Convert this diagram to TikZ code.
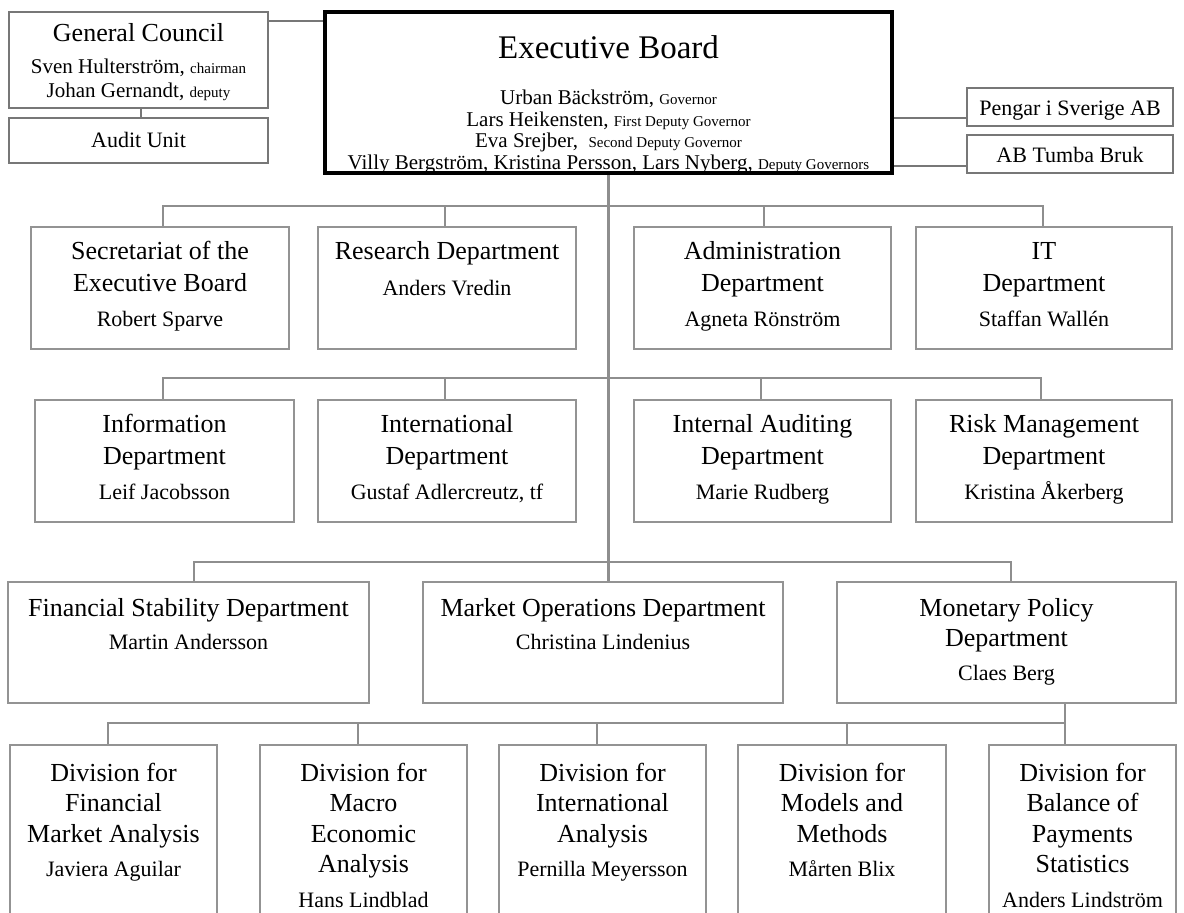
\documentclass[tikz,border=0pt]{standalone}
\usepackage{fontspec}
\setmainfont{Liberation Serif}
\usetikzlibrary{calc}
\definecolor{bxgray}{HTML}{939393}
\definecolor{dkgray}{HTML}{777777}
\definecolor{lngray}{HTML}{8E8E8E}
\newcommand\rolefont{\fontsize{15}{18}\selectfont}
\newcommand\mkbox[6]{\node[#6, minimum width={#4-#2}, minimum height={#5-#3}] (#1) at ({(#2+#4)/2},{(#3+#5)/2}) {};}
\newcommand\mktext[5]{\node[#4, anchor=base] (#1) at (#2,#3) {#5};}
\tikzset{
  box/.style={draw=bxgray, line width=2.6pt, inner sep=0pt, fill=none},
  topbox/.style={draw=dkgray, line width=2.6pt, inner sep=0pt},
  ebbox/.style={draw=black, line width=4pt, inner sep=0pt},
  link/.style={draw=lngray, line width=2.6pt},
  toplink/.style={draw=dkgray, line width=2.6pt},
  ttl/.style={font=\fontsize{26}{30}\selectfont, inner sep=0pt},
  nm/.style={font=\fontsize{22}{26}\selectfont, inner sep=0pt},
  gcn/.style={font=\fontsize{21}{25}\selectfont, inner sep=0pt},
  ebt/.style={font=\fontsize{33}{38}\selectfont, inner sep=0pt},
}
\begin{document}
\begin{tikzpicture}[x=1pt, y=-1pt]
\useasboundingbox (0,0) rectangle (1184,913);
\fill[white] (0,0) rectangle (1184,913);
\clip (0,0) rectangle (1184,913);

% ---------- top level ----------
\mkbox{gc}{9}{12}{268}{108}{topbox}
\mktext{gct}{138.5}{41}{ttl}{General Council}
\mktext{gcn1}{138.5}{73}{gcn}{Sven Hulterström, {\rolefont chairman}}
\mktext{gcn2}{138.5}{97}{gcn}{Johan Gernandt, {\rolefont deputy}}

\mkbox{au}{9}{118}{268}{163}{topbox}
\mktext{aut}{138.5}{147}{nm}{Audit Unit}

\mkbox{eb}{325}{12}{892}{173}{ebbox}
\mktext{ebtt}{608.5}{58}{ebt}{Executive Board}
\mktext{eb1}{608.5}{104}{gcn}{Urban Bäckström, {\rolefont Governor}}
\mktext{eb2}{608.5}{126}{gcn}{Lars Heikensten, {\rolefont First Deputy Governor}}
\mktext{eb3}{608.5}{147}{gcn}{Eva Srejber,\ \ {\rolefont Second Deputy Governor}}
\mktext{eb4}{608.5}{169}{gcn}{Villy Bergström, Kristina Persson, Lars Nyberg, {\rolefont Deputy Governors}}

\mkbox{pg}{967}{88}{1173}{126}{topbox}
\mktext{pgt}{1070}{115}{nm}{Pengar i Sverige AB}
\mkbox{ab}{967}{135}{1173}{173}{topbox}
\mktext{abt}{1070}{162}{nm}{AB Tumba Bruk}

% ---------- row 1 ----------
\mkbox{sec}{31}{227}{289}{349}{box}
\mktext{sec1}{160}{259}{ttl}{Secretariat of the}
\mktext{sec2}{160}{291}{ttl}{Executive Board}
\mktext{sec3}{160}{326}{nm}{Robert Sparve}

\mkbox{res}{318}{227}{576}{349}{box}
\mktext{res1}{447}{259}{ttl}{Research Department}
\mktext{res2}{447}{295}{nm}{Anders Vredin}

\mkbox{adm}{634}{227}{891}{349}{box}
\mktext{adm1}{762.5}{259}{ttl}{Administration}
\mktext{adm2}{762.5}{291}{ttl}{Department}
\mktext{adm3}{762.5}{326}{nm}{Agneta Rönström}

\mkbox{it}{916}{227}{1172}{349}{box}
\mktext{it1}{1044}{259}{ttl}{IT}
\mktext{it2}{1044}{291}{ttl}{Department}
\mktext{it3}{1044}{326}{nm}{Staffan Wallén}

% ---------- row 2 ----------
\mkbox{inf}{35}{400}{294}{522}{box}
\mktext{inf1}{164.5}{432}{ttl}{Information}
\mktext{inf2}{164.5}{464}{ttl}{Department}
\mktext{inf3}{164.5}{499}{nm}{Leif Jacobsson}

\mkbox{intl}{318}{400}{576}{522}{box}
\mktext{intl1}{447}{432}{ttl}{International}
\mktext{intl2}{447}{464}{ttl}{Department}
\mktext{intl3}{447}{499}{nm}{Gustaf Adlercreutz, tf}

\mkbox{ia}{634}{400}{891}{522}{box}
\mktext{ia1}{762.5}{432}{ttl}{Internal Auditing}
\mktext{ia2}{762.5}{464}{ttl}{Department}
\mktext{ia3}{762.5}{499}{nm}{Marie Rudberg}

\mkbox{rm}{916}{400}{1172}{522}{box}
\mktext{rm1}{1044}{432}{ttl}{Risk Management}
\mktext{rm2}{1044}{464}{ttl}{Department}
\mktext{rm3}{1044}{499}{nm}{Kristina Åkerberg}

% ---------- row 3 ----------
\mkbox{fs}{8}{582}{369}{703}{box}
\mktext{fs1}{188.5}{616}{ttl}{Financial Stability Department}
\mktext{fs2}{188.5}{649}{nm}{Martin Andersson}

\mkbox{mo}{423}{582}{783}{703}{box}
\mktext{mo1}{603}{616}{ttl}{Market Operations Department}
\mktext{mo2}{603}{649}{nm}{Christina Lindenius}

\mkbox{mp}{837}{582}{1176}{703}{box}
\mktext{mp1}{1006.5}{616}{ttl}{Monetary Policy}
\mktext{mp2}{1006.5}{646}{ttl}{Department}
\mktext{mp3}{1006.5}{680}{nm}{Claes Berg}

% ---------- divisions ----------
\mkbox{d1}{10}{745}{217}{930}{box}
\mktext{d1a}{113.5}{781}{ttl}{Division for}
\mktext{d1b}{113.5}{811}{ttl}{Financial}
\mktext{d1c}{113.5}{842}{ttl}{Market Analysis}
\mktext{d1n}{113.5}{876}{nm}{Javiera Aguilar}

\mkbox{d2}{260}{745}{467}{930}{box}
\mktext{d2a}{363.5}{781}{ttl}{Division for}
\mktext{d2b}{363.5}{811}{ttl}{Macro}
\mktext{d2c}{363.5}{842}{ttl}{Economic}
\mktext{d2d}{363.5}{872}{ttl}{Analysis}
\mktext{d2n}{363.5}{907}{nm}{Hans Lindblad}

\mkbox{d3}{499}{745}{706}{930}{box}
\mktext{d3a}{602.5}{781}{ttl}{Division for}
\mktext{d3b}{602.5}{811}{ttl}{International}
\mktext{d3c}{602.5}{842}{ttl}{Analysis}
\mktext{d3n}{602.5}{876}{nm}{Pernilla Meyersson}

\mkbox{d4}{738}{745}{946}{930}{box}
\mktext{d4a}{842}{781}{ttl}{Division for}
\mktext{d4b}{842}{811}{ttl}{Models and}
\mktext{d4c}{842}{842}{ttl}{Methods}
\mktext{d4n}{842}{876}{nm}{Mårten Blix}

\mkbox{d5}{989}{745}{1176}{930}{box}
\mktext{d5a}{1082.5}{781}{ttl}{Division for}
\mktext{d5b}{1082.5}{811}{ttl}{Balance of}
\mktext{d5c}{1082.5}{842}{ttl}{Payments}
\mktext{d5d}{1082.5}{872}{ttl}{Statistics}
\mktext{d5n}{1082.5}{907}{nm}{Anders Lindström}

% ---------- connectors ----------
\coordinate (gcy) at (0,21);
\draw[toplink] (gc.south -| 141,0) -- (au.north -| 141,0);
\draw[toplink] (gc.east |- gcy) -- (eb.west |- gcy);
\coordinate (pgl) at ($(pg.west)+(0,11)$);
\coordinate (abl) at ($(ab.west)+(0,12)$);
\draw[toplink] (eb.east |- pgl) -- (pgl);
\draw[toplink] (eb.east |- abl) -- (abl);

% trunk
\draw[link] (eb.south) -- (eb.south |- mo.north);

% row 1 bus
\coordinate (r1) at (0,206);
\draw[link] (sec.north -| 163,0) |- (r1 -| 1043,0) -- (it.north -| 1043,0);
\draw[link] (res.north -| 445,0) -- (r1 -| 445,0);
\draw[link] (adm.north -| 764,0) -- (r1 -| 764,0);

% row 2 bus
\coordinate (r2) at (0,378);
\draw[link] (inf.north -| 163,0) |- (r2 -| 1041,0) -- (rm.north -| 1041,0);
\draw[link] (intl.north -| 445,0) -- (r2 -| 445,0);
\draw[link] (ia.north -| 761,0) -- (r2 -| 761,0);

% row 3 bus
\coordinate (r3) at (0,562);
\draw[link] (fs.north -| 194,0) |- (r3 -| 1011,0) -- (mp.north -| 1011,0);

% division bus
\coordinate (dv) at (1065,723);
\draw[link] (d1.north -| 108,0) |- (dv);
\draw[link] (mp.south -| dv) -- (d5.north -| dv);
\draw[link] (d2.north -| 358,0) -- (dv -| 358,0);
\draw[link] (d3.north -| 597,0) -- (dv -| 597,0);
\draw[link] (d4.north -| 847,0) -- (dv -| 847,0);
\end{tikzpicture}
\end{document}
